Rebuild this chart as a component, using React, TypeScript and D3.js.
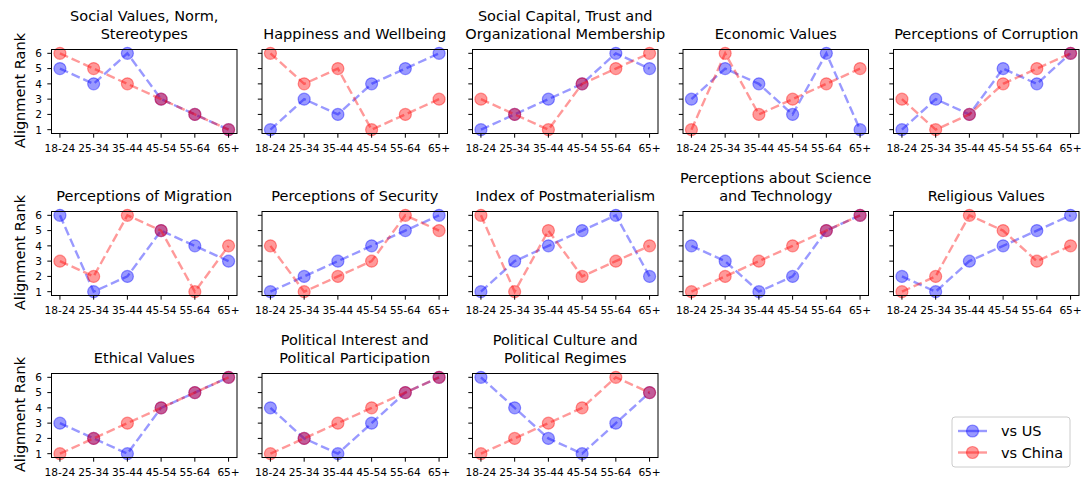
import React from "react";
import * as d3 from "d3";

const ageGroups = ["18-24", "25-34", "35-44", "45-54", "55-64", "65+"];
const yTicks = [1, 2, 3, 4, 5, 6];

const titles = [
  "Social Values, Norm,\nStereotypes",
  "Happiness and Wellbeing",
  "Social Capital, Trust and\nOrganizational Membership",
  "Economic Values",
  "Perceptions of Corruption",
  "Perceptions of Migration",
  "Perceptions of Security",
  "Index of Postmaterialism",
  "Perceptions about Science\nand Technology",
  "Religious Values",
  "Ethical Values",
  "Political Interest and\nPolitical Participation",
  "Political Culture and\nPolitical Regimes",
];

const vsUS = [
  [5, 4, 6, 3, 2, 1],
  [1, 3, 2, 4, 5, 6],
  [1, 2, 3, 4, 6, 5],
  [3, 5, 4, 2, 6, 1],
  [1, 3, 2, 5, 4, 6],
  [6, 1, 2, 5, 4, 3],
  [1, 2, 3, 4, 5, 6],
  [1, 3, 4, 5, 6, 2],
  [4, 3, 1, 2, 5, 6],
  [2, 1, 3, 4, 5, 6],
  [3, 2, 1, 4, 5, 6],
  [4, 2, 1, 3, 5, 6],
  [6, 4, 2, 1, 3, 5],
];

const vsChina = [
  [6, 5, 4, 3, 2, 1],
  [6, 4, 5, 1, 2, 3],
  [3, 2, 1, 4, 5, 6],
  [1, 6, 2, 3, 4, 5],
  [3, 1, 2, 4, 5, 6],
  [3, 2, 6, 5, 1, 4],
  [4, 1, 2, 3, 6, 5],
  [6, 1, 5, 2, 3, 4],
  [1, 2, 3, 4, 5, 6],
  [1, 2, 6, 5, 3, 4],
  [1, 2, 3, 4, 5, 6],
  [1, 2, 3, 4, 5, 6],
  [1, 2, 3, 4, 6, 5],
];

const seriesNames = ["vs US", "vs China"];
const seriesColors = ["rgb(0,0,255)", "rgb(255,0,0)"];

const W = 1087;
const H = 479;
const FONT = "DejaVu Sans, sans-serif";
const colLeft0 = 51.5;
const colPitch = 210.5;
const panelW = 185.5;
const rowTop0 = 49.5;
const rowPitch = 162;
const panelH = 84;
const ALPHA = 0.4;
const TICK_FS = 10.6;

function Panel({ idx }: { idx: number }) {
  const col = idx % 5;
  const row = Math.floor(idx / 5);
  const left = colLeft0 + col * colPitch;
  const top = rowTop0 + row * rowPitch;
  const x = d3.scalePoint<string>().domain(ageGroups).range([left, left + panelW]).padding(0.25);
  const y = d3.scaleLinear().domain([0.75, 6.25]).range([top + panelH, top]);
  const line = d3
    .line<number>()
    .x((_, i) => x(ageGroups[i]) as number)
    .y((d) => y(d));
  const titleLines = titles[idx].split("\n");
  const series = [vsUS[idx], vsChina[idx]];
  return (
    <g>
      {titleLines.map((t, i) => (
        <text
          key={i}
          x={left + panelW / 2}
          y={top - 11 - (titleLines.length - 1 - i) * 17.5}
          textAnchor="middle"
          fontSize={14.5}
          fontFamily={FONT}
        >
          {t}
        </text>
      ))}
      {series.map((vals, s) => (
        <g key={s}>
          <path
            d={line(vals) || ""}
            fill="none"
            stroke={seriesColors[s]}
            strokeOpacity={ALPHA}
            strokeWidth={2.4}
            strokeDasharray="8.9,3.9"
          />
          {vals.map((v, i) => (
            <circle
              key={i}
              cx={x(ageGroups[i]) as number}
              cy={y(v)}
              r={6}
              fill={seriesColors[s]}
              fillOpacity={ALPHA}
              stroke={seriesColors[s]}
              strokeOpacity={ALPHA}
              strokeWidth={1.2}
            />
          ))}
        </g>
      ))}
      <rect x={left} y={top} width={panelW} height={panelH} fill="none" stroke="#000" strokeWidth={1} />
      {ageGroups.map((a) => (
        <g key={a}>
          <line x1={x(a)} x2={x(a)} y1={top + panelH} y2={top + panelH + 4.2} stroke="#000" strokeWidth={1} />
          <text x={x(a)} y={top + panelH + 18.3} textAnchor="middle" fontSize={TICK_FS} fontFamily={FONT}>
            {a}
          </text>
        </g>
      ))}
      {yTicks.map((t) => (
        <g key={t}>
          <line x1={left - 4.2} x2={left} y1={y(t)} y2={y(t)} stroke="#000" strokeWidth={1} />
          {col === 0 && (
            <text x={left - 9.5} y={y(t) + 3.9} textAnchor="end" fontSize={TICK_FS} fontFamily={FONT}>
              {t}
            </text>
          )}
        </g>
      ))}
      {col === 0 && (
        <text
          transform={`translate(${24.5},${top + panelH / 2 - 1}) rotate(-90)`}
          textAnchor="middle"
          fontSize={14.5}
          fontFamily={FONT}
        >
          Alignment Rank
        </text>
      )}
    </g>
  );
}

function Legend() {
  const lx = 952;
  const ly = 417;
  return (
    <g>
      <rect x={lx} y={ly} width={118} height={50} rx={3} fill="#fff" fillOpacity={0.8} stroke="#ccc" strokeWidth={1} />
      {seriesNames.map((n, i) => {
        const cy = ly + 14 + i * 21.5;
        return (
          <g key={n}>
            <line
              x1={lx + 6}
              x2={lx + 35}
              y1={cy}
              y2={cy}
              stroke={seriesColors[i]}
              strokeOpacity={ALPHA}
              strokeWidth={2.4}
            />
            <circle
              cx={lx + 20.5}
              cy={cy}
              r={6}
              fill={seriesColors[i]}
              fillOpacity={ALPHA}
              stroke={seriesColors[i]}
              strokeOpacity={ALPHA}
              strokeWidth={1.2}
            />
            <text x={lx + 49} y={cy + 5} fontSize={14.5} fontFamily={FONT}>
              {n}
            </text>
          </g>
        );
      })}
    </g>
  );
}

export default function App() {
  return (
    <svg width={W} height={H} style={{ position: "absolute", left: 0, top: 0, background: "#fff" }}>
      <rect width={W} height={H} fill="#fff" />
      {titles.map((_, i) => (
        <Panel key={i} idx={i} />
      ))}
      <Legend />
    </svg>
  );
}
